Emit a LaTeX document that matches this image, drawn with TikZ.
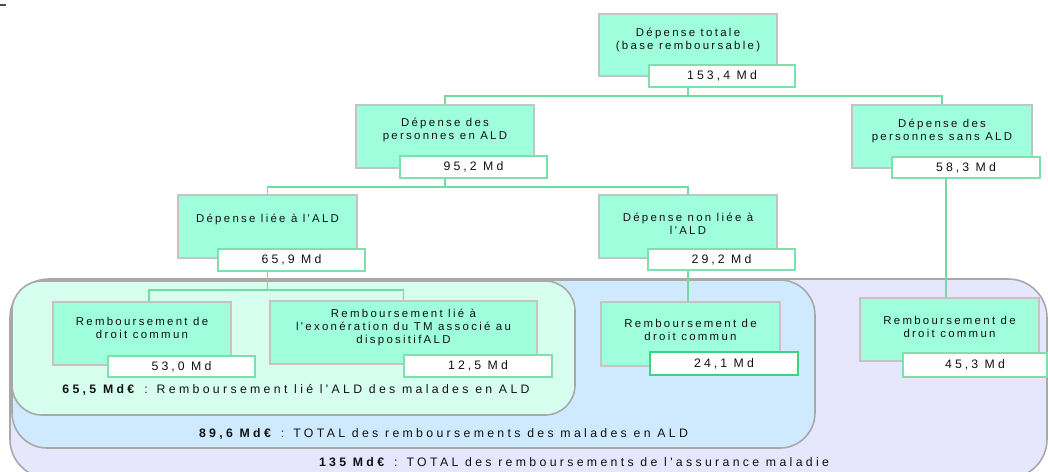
\documentclass[tikz,border=0pt]{standalone}
\usepackage{fontspec}
\setmainfont{Liberation Sans}
\newfontfamily\boxfont[LetterSpace=20]{Liberation Sans}
\newfontfamily\valfont[LetterSpace=25]{Liberation Sans}
\newfontfamily\labfont[LetterSpace=27]{Liberation Sans}
\usetikzlibrary{fit}
\definecolor{gfill}{HTML}{9FFFDC}
\definecolor{gedge}{HTML}{C4C4C4}
\definecolor{vedge}{HTML}{7EE0AA}
\definecolor{vedgeb}{HTML}{3FD27F}
\definecolor{conn}{HTML}{70DDA0}
\definecolor{mint}{HTML}{D6FFF0}
\definecolor{sky}{HTML}{CFE9FF}
\definecolor{lav}{HTML}{E6E6FC}
\definecolor{regedge}{HTML}{A8A8A8}
\definecolor{txt}{HTML}{111111}
\begin{document}
\begin{tikzpicture}[x=0.02cm,y=-0.02cm,
  gbox/.style={draw=gedge, fill=gfill, line width=0.6pt, inner sep=0pt},
  vbox/.style={draw=vedge, fill=white, line width=1pt, inner sep=0pt},
  region/.style={draw=regedge, line width=0.9pt, inner sep=0pt},
  link/.style={draw=conn, line width=0.8pt},
  btext/.style={text=txt, font=\boxfont\fontsize{6.5}{7.4}\selectfont, align=center, inner sep=0pt},
  vtext/.style={text=txt, font=\valfont\fontsize{7}{8}\selectfont, inner sep=0pt},
  ltext/.style={text=txt, font=\labfont\fontsize{7}{8}\selectfont, inner sep=0pt}]
\useasboundingbox[fill=white] (0,0) rectangle (1048,471);
% tiny mark
\coordinate (m1) at (0,5);
\coordinate (m2) at (6,5);
\draw[black!70, line width=0.8pt] (m1) -- (m2);
% regions
\node[region, fill=lav, rounded corners=22pt, fit={(10,279)(1047,478)}] (r3) {};
\node[region, fill=sky, rounded corners=20pt, fit={(12,280)(815,448)}] (r2) {};
\node[region, fill=mint, rounded corners=17pt, fit={(12,281)(575,415)}] (r1) {};
% green boxes
\node[gbox, fit={(599,14)(777,76)}] (g1) {};
\node[gbox, fit={(356,105)(534,168)}] (g2) {};
\node[gbox, fit={(852,105)(1032,168)}] (g3) {};
\node[gbox, fit={(178,195)(357,258)}] (g4) {};
\node[gbox, fit={(599,195)(777,258)}] (g5) {};
\node[gbox, fit={(53,302)(231,365)}] (g6) {};
\node[gbox, fit={(270,301)(537,364)}] (g7) {};
\node[gbox, fit={(601,302)(780,366)}] (g8) {};
\node[gbox, fit={(860,298)(1039,361)}] (g9) {};
% value boxes
\node[vbox, fit={(649,65)(795,87)}] (v1) {};
\node[vbox, fit={(400,156)(547,178)}] (v2) {};
\node[vbox, fit={(892,157)(1040,178)}] (v3) {};
\node[vbox, fit={(218,249)(365,271)}] (v4) {};
\node[vbox, fit={(648,249)(795,270)}] (v5) {};
\node[vbox, fit={(108,356)(255,377)}] (v6) {};
\node[vbox, fit={(404,355)(552,377)}] (v7) {};
\node[vbox, draw=vedgeb, line width=1.2pt, fit={(650,352)(798,375)}] (v8) {};
\node[vbox, fit={(903,353)(1047,377)}] (v9) {};
% box texts
\node[btext] (t1) at (688,39.5) {Dépense totale\\(base remboursable)};
\node[btext] (t2) at (445,130) {Dépense des\\personnes en ALD};
\node[btext] (t3) at (942,131) {Dépense des\\personnes sans ALD};
\node[btext] (t4) at (267.5,219) {Dépense liée à l'ALD};
\node[btext] (t5) at (688,224) {Dépense non liée à\\l'ALD};
\node[btext] (t6) at (142,328) {Remboursement de\\droit commun};
\node[btext] (t7) at (403.5,327.5) {Remboursement lié à\\l'exonération du TM associé au\\dispositifALD};
\node[btext] (t8) at (690.5,329.5) {Remboursement de\\droit commun};
\node[btext] (t9) at (949.5,326.5) {Remboursement de\\droit commun};
% value texts
\node[vtext] (n1) at (v1.center) {153,4 Md};
\node[vtext] (n2) at (v2.center) {95,2 Md};
\node[vtext] (n3) at (v3.center) {58,3 Md};
\node[vtext] (n4) at (v4.center) {65,9 Md};
\node[vtext] (n5) at (v5.center) {29,2 Md};
\node[vtext] (n6) at (v6.center) {53,0 Md};
\node[vtext] (n7) at (v7.center) {12,5 Md};
\node[vtext] (n8) at (v8.center) {24,1 Md};
\node[vtext] (n9) at (v9.center) {45,3 Md};
% region labels
\node[ltext] (l1) at (296,390) {\textbf{65,5 Md€} : Remboursement lié l'ALD des malades en ALD};
\node[ltext] (l2) at (443.5,434) {\textbf{89,6 Md€} : TOTAL des remboursements des malades en ALD};
\node[ltext] (l3) at (574,462) {\textbf{135 Md€} : TOTAL des remboursements de l'assurance maladie};
% connectors
\coordinate (j1) at (688,96);
\draw[link] (g1.center |- v1.south) -- (j1);
\draw[link] (j1) -| (g2.north);
\draw[link] (j1) -| (g3.north);
\coordinate (j2) at (445,187);
\draw[link] (g2.center |- v2.south) -- (j2);
\draw[link] (j2) -| (g4.north);
\draw[link] (j2) -| (g5.north);
\coordinate (j3) at (267.5,290);
\coordinate (j3l) at (149,290);
\draw[link] (g4.center |- v4.south) -- (j3);
\draw[link] (j3) -- (j3l) -- (j3l |- g6.north);
\draw[link] (j3) -| (g7.north);
\draw[link] (g5.center |- v5.south) -- (g5.center |- g8.north);
\coordinate (j4) at (946,178);
\draw[link] (j4) -- (j4 |- g9.north);
\end{tikzpicture}
\end{document}
